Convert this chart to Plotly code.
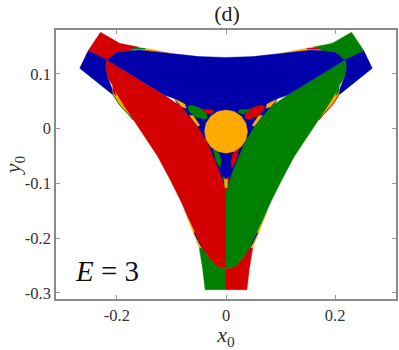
import plotly.graph_objects as go

RED = "#D40000"
GREEN = "#008000"
BLUE = "#0000AA"
ORANGE = "#FFAA00"

tick_x = [-0.2, 0, 0.2]
tick_x_labels = ["-0.2", "0", "0.2"]
tick_y = [0.1, 0, -0.1, -0.2, -0.3]
tick_y_labels = ["0.1", "0", "-0.1", "-0.2", "-0.3"]

# Regions of the left half (x0, y0); the basin map is mirror-symmetric
corner_top = [(-.230, .176), (-.195, .1558), (-.1585, .1485), (-.1767, .1423), (-.2009, .1387), (-.218, .1254), (-.2526, .1423)]
corner_strip = [(-.2526, .1423), (-.218, .1254), (-.2204, .1131), (-.2162, .092), (-.2118, .081), (-.2075, .070), (-.207, .0615), (-.22, .072), (-.2423, .0889), (-.268, .110)]
lobe = [(-.218, .1254), (-.113, .0615), (-.0825, .0401), (-.0523, .0036), (-.0341, -.0266), (-.0159, -.0693), (0, -.112),
        (0, -.256), (-.0158, -.2518), (-.031, -.2365), (-.043, -.2182), (-.058, -.188), (-.069, -.1635), (-.0825, -.1332),
        (-.1007, -.0967), (-.1251, -.0511), (-.1494, -.0146), (-.1707, .0159), (-.178, .029), (-.1858, .0401),
        (-.2009, .0646), (-.2075, .078), (-.2162, .092), (-.2204, .1131)]
lobe_foot = [(-.049, -.2182), (-.043, -.2182), (-.031, -.2365), (-.0158, -.2518), (0, -.256), (0, -.2943), (-.0383, -.2943), (-.043, -.2547)]
side_fringe = [(-.2075, .078), (-.207, .0615), (-.195, .0432), (-.178, .025), (-.1707, .0159), (-.178, .029), (-.1858, .0401), (-.2009, .0646)]
side_line = [(-.207, .0615), (-.195, .0432), (-.178, .025), (-.1707, .0159)]
side_tip = [(-.2075, .078), (-.2065, .065), (-.2015, .060), (-.2035, .070)]
low_fringe = [(-.0758, -.150), (-.0705, -.1635), (-.0643, -.1757), (-.049, -.2182), (-.043, -.2182), (-.058, -.188), (-.069, -.1635)]
low_line = [(-.0575, -.190), (-.0485, -.2085), (-.038, -.2255)]
top_fringe = [(-.1767, .1423), (-.1585, .1485), (-.13, .1435), (-.1038, .1376), (-.13, .1405), (-.1585, .1435)]
top_line = [(-.172, .1455), (-.16, .1465), (-.148, .1455)]
ellipse_side = [(-.0706, .0406), (-.0619, .0429), (-.0477, .0378), (-.0361, .0281), (-.0338, .0194), (-.0425, .0171), (-.0567, .0222), (-.0683, .0319)]
chip_top = [(-.046, .0354), (-.025, .0345), (-.022, .030), (-.032, .026)]
chip_low = [(-.024, -.035), (-.012, -.0465), (-.0085, -.062), (-.011, -.072), (-.018, -.060)]
chip_foot = [(-.0065, -.088), (0, -.09), (0, -.115)]
stripe_corner = [(-.0947, .0555), (-.075, .0445), (-.073, .037), (-.082, .040)]
stripe_lobe = [(-.067, .024), (-.060, .024), (-.048, .006), (-.052, .0036)]
stripe_tip = [(-.003, -.092), (.003, -.092), (.002, -.108), (-.002, -.108)]

# Regions crossing the centre line, complete outlines
blue_lobe = [(-.218, .1254), (-.2009, .1387), (-.1767, .1423), (-.1585, .1435), (-.13, .1405), (-.1038, .1376), (-.049, .1314), (0, .130),
             (.049, .1314), (.1038, .1376), (.13, .1405), (.1585, .1435), (.1767, .1423), (.2009, .1387), (.218, .1254),
             (.113, .0615), (.0887, .0524), (.0523, .0401), (0, .0341), (-.0523, .0401), (-.0887, .0524), (-.113, .0615)]
gap_triangle = [(-.0947, .0555), (.0947, .0555), (0, -.115)]
disc = [(0, .034), (.0151, .031), (.0279, .0224), (.0365, .0096), (.0395, -.0055), (.0365, -.0206), (.0279, -.0334), (.0151, -.042),
        (0, -.045), (-.0151, -.042), (-.0279, -.0334), (-.0365, -.0206), (-.0395, -.0055), (-.0365, .0096), (-.0279, .0224), (-.0151, .031)]
ellipse_low = [(0, -.0435), (.0065, -.050), (.0091, -.068), (.0065, -.080), (0, -.0925), (-.0065, -.080), (-.0091, -.068), (-.0065, -.050)]


def mirrored(points):
    return [(-x, y) for x, y in points]


fig = go.Figure()


def area(points, color):
    xs = [p[0] for p in points] + [points[0][0]]
    ys = [p[1] for p in points] + [points[0][1]]
    fig.add_trace(go.Scatter(x=xs, y=ys, mode="lines", fill="toself", fillcolor=color,
                             line=dict(width=0.4, color=color), hoverinfo="skip", showlegend=False))


def stroke(points, color, width):
    fig.add_trace(go.Scatter(x=[p[0] for p in points], y=[p[1] for p in points], mode="lines",
                             line=dict(width=width, color=color), hoverinfo="skip", showlegend=False))


area(gap_triangle, BLUE)
for side, main, other in ((lambda p: p, RED, GREEN), (mirrored, GREEN, RED)):
    area(side(corner_top), main)
    area(side(corner_strip), BLUE)
    area(side(side_fringe), ORANGE)
    stroke(side(side_line), other, 1.0)
    area(side(side_tip), main)
    area(side(low_fringe), ORANGE)
    stroke(side(low_line), BLUE, 1.5)
    area(side(top_fringe), ORANGE)
    stroke(side(top_line), other, 1.2)
    area(side(lobe_foot), other)
    area(side(stripe_corner), ORANGE)
    area(side(stripe_lobe), ORANGE)
    area(side(lobe), main)
    area(side(ellipse_side), other)
    area(side(chip_top), main)
    area(side(chip_low), other)
    area(side(chip_foot), other)
area(stripe_tip, ORANGE)
area(blue_lobe, BLUE)
area(ellipse_low, BLUE)
area(disc, ORANGE)

FONT = "Liberation Serif"
axis_common = dict(ticks="inside", ticklen=4, tickwidth=1, tickcolor="#999999", mirror="allticks", showline=True,
                   linecolor="#8a8a8a", linewidth=1.5, showgrid=False, zeroline=False,
                   tickfont=dict(family=FONT, size=16.5, color="#333333"), layer="above traces")

fig.update_layout(
    width=399, height=350, autosize=False, paper_bgcolor="white", plot_bgcolor="white",
    margin=dict(l=56, r=1, t=30, b=51), showlegend=False,
    title=dict(text="(d)", x=227 / 399, xanchor="center", y=0.962, yanchor="middle",
               font=dict(family=FONT, size=22, color="#222222")),
    xaxis=dict(range=[-0.3115, 0.3115], tickmode="array", tickvals=tick_x, ticktext=tick_x_labels,
               title=dict(text="<i>x</i><sub>0</sub>", font=dict(family=FONT, size=22, color="#333333"), standoff=4), **axis_common),
    yaxis=dict(range=[-0.3113, 0.18], tickmode="array", tickvals=tick_y, ticktext=tick_y_labels,
               title=dict(text="<i>y</i><sub>0</sub>", font=dict(family=FONT, size=22, color="#333333"), standoff=4), **axis_common),
    annotations=[dict(text="<i>E</i> = 3", xref="paper", yref="paper", x=0.05, y=0.105, xanchor="left", yanchor="middle",
                      showarrow=False, font=dict(family=FONT, size=29, color="#111111"))],
)
fig.write_html("out.html", config=dict(displayModeBar=False),
               post_script="document.body.style.margin='0';document.body.style.overflow='hidden';")
